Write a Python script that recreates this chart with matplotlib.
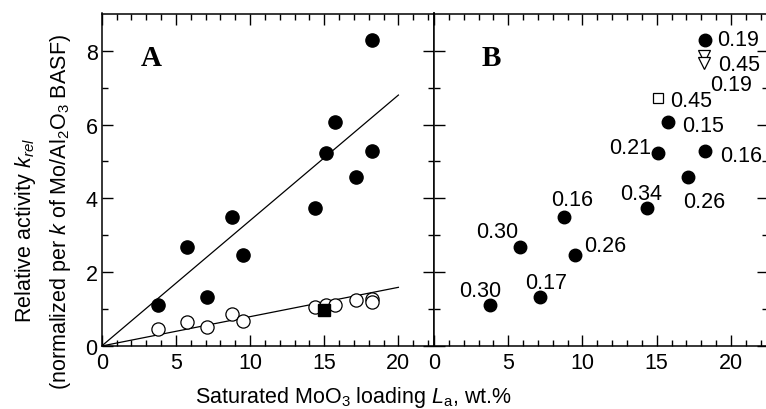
import matplotlib
matplotlib.use("Agg")
import matplotlib.pyplot as plt
import numpy as np

plt.rcParams['font.family'] = ['Liberation Sans', 'DejaVu Sans']
plt.rcParams['mathtext.fontset'] = 'custom'
plt.rcParams['mathtext.rm'] = 'Liberation Sans'
plt.rcParams['mathtext.it'] = 'Liberation Sans:italic'

# ---- data ----
loading = [3.78, 5.77, 7.12, 8.79, 9.51, 14.38, 15.12, 15.75, 17.13, 18.25, 18.25]
k_rel_filled = [1.11, 2.67, 1.34, 3.49, 2.47, 3.73, 5.22, 6.08, 4.59, 5.28, 8.28]
k_rel_open = [0.46, 0.66, 0.52, 0.86, 0.69, 1.05, 1.11, 1.11, 1.25, 1.27, 1.20]
ref_square_x = [15.0]
ref_square_y = [0.98]
slope_upper = 0.340
slope_lower = 0.0795
fit_x = [0, 20]

labels_B = ['0.30', '0.30', '0.17', '0.16', '0.26', '0.34', '0.21', '0.15', '0.26', '0.16', '0.19']
# label offsets (pixels) relative to points
offs_B = [(-10, 9), (-22, 10), (6, 9), (8, 12), (30, 4), (-6, 9), (-28, 0), (35, -9),
          (16, -30), (36, -10), (33, -5)]
sq_B_x = [15.1]
sq_B_y = [6.71]
sq_B_label = ['0.45']
tri_B_x = [18.2, 18.2]
tri_B_y = [7.85, 7.67]
tri_B_labels = ['0.45', '0.19']
tri_offs = [(35, -14), (27, -27)]

W, H = 766, 410
fig = plt.figure(figsize=(W / 100, H / 100), dpi=100)

def px(x0, y0, x1, y1):
    return [x0 / W, 1 - y1 / H, (x1 - x0) / W, (y1 - y0) / H]

axA = fig.add_axes(px(101.7, 14.5, 434, 347))
axB = fig.add_axes(px(434, 14.5, 768, 347))

fs = 15.5
for ax, xmax in ((axA, 22.4), (axB, 22.5)):
    ax.set_xlim(0, xmax)
    ax.set_ylim(0, 9.01)
    ax.set_xticks([0, 5, 10, 15, 20])
    ax.set_xticks(np.arange(0, 23, 1), minor=True)
    ax.set_yticks([0, 2, 4, 6, 8])
    ax.set_yticks([1, 3, 5, 7], minor=True)
    ax.tick_params(which='both', direction='in', top=True, right=True, width=1.0, labelsize=fs)
    ax.tick_params(which='major', length=8)
    ax.tick_params(which='minor', length=4.3)
    ax.tick_params(axis='x', pad=4)
    ax.tick_params(axis='y', pad=3)
    for s in ax.spines.values():
        s.set_linewidth(1.1)

axB.tick_params(axis='y', labelleft=False)

# Panel A
fx = np.array(fit_x)
axA.plot(fx, slope_upper * fx, color='black', lw=0.9, zorder=2)
axA.plot(fx, slope_lower * fx, color='black', lw=0.9, zorder=2)
axA.plot(loading, k_rel_filled, 'o', color='black', ms=9.5, zorder=3)
axA.plot(loading, k_rel_open, 'o', mfc='white', mec='black', mew=0.9, ms=9.5, zorder=3)
axA.plot(ref_square_x, ref_square_y, 's', color='black', ms=8, zorder=4)
axA.text(0.148, 0.844, 'A', transform=axA.transAxes, ha='center', va='baseline',
         fontsize=21, fontweight='bold', family='Liberation Serif')

# Panel B
axB.plot(loading, k_rel_filled, 'o', color='black', ms=9, zorder=3)
axB.plot(sq_B_x, sq_B_y, 's', mfc='white', mec='black', mew=0.9, ms=7, zorder=3)
axB.plot(tri_B_x, tri_B_y, 'v', mfc='white', mec='black', mew=0.9, ms=8.6, zorder=3)
for x, y, t, (dx, dy) in zip(loading, k_rel_filled, labels_B, offs_B):
    axB.annotate(t, (x, y), xytext=(dx, dy), textcoords='offset pixels',
                 ha='center', va='baseline', fontsize=fs, annotation_clip=False)
for x, y, t in zip(sq_B_x, sq_B_y, sq_B_label):
    axB.annotate(t, (x, y), xytext=(33, -8), textcoords='offset pixels',
                 ha='center', va='baseline', fontsize=fs)
for x, y, t, (dx, dy) in zip(tri_B_x, tri_B_y, tri_B_labels, tri_offs):
    axB.annotate(t, (x, y), xytext=(dx, dy), textcoords='offset pixels',
                 ha='center', va='baseline', fontsize=fs, annotation_clip=False)
axB.text(0.171, 0.844, 'B', transform=axB.transAxes, ha='center', va='baseline',
         fontsize=21, fontweight='bold', family='Liberation Serif')

# Axis labels
fig.text(353.5 / W, 1 - 403 / H, r'Saturated MoO$_3$ loading $L_\mathrm{a}$, wt.%',
         ha='center', va='baseline', fontsize=fs)
fig.text(26 / W, 1 - 230 / H, r'Relative activity $k_{rel}$', rotation=90,
         ha='center', va='center', fontsize=fs)
fig.text(61 / W, 1 - 212 / H, r'(normalized per $k$ of Mo/Al$_2$O$_3$ BASF)', rotation=90,
         ha='center', va='center', fontsize=fs)

fig.savefig('out.png', dpi=100)
